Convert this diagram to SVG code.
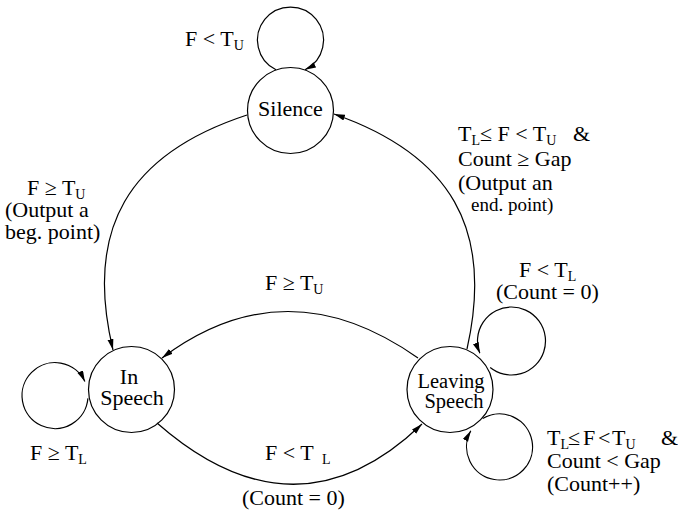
<svg xmlns="http://www.w3.org/2000/svg" width="678" height="510" viewBox="0 0 678 510">
  <style>
    .node { fill: #fff; stroke: #000; stroke-width: 1.2; }
    .edge { fill: none; stroke: #000; stroke-width: 1.2; marker-end: url(#ah); }
    text { font-family: "Liberation Serif", "Times New Roman", serif; font-size: 22px; fill: #000; }
    .sub { font-size: 14px; }
    .small { font-size: 19px; }
    .ls { font-size: 20.5px; }
  </style>
  <defs>
    <marker id="ah" markerUnits="userSpaceOnUse" markerWidth="12" markerHeight="7" viewBox="0 0 12 7" refX="11" refY="3" orient="auto">
      <path d="M0,0 L11,3 L0,6 z" fill="#000"/>
    </marker>
  </defs>

  <!-- states -->
  <g id="silence">
    <circle class="node" cx="290.5" cy="110.5" r="43"/>
    <text x="290.5" y="116" text-anchor="middle">Silence</text>
  </g>
  <g id="in-speech">
    <circle class="node" cx="131.5" cy="389.5" r="43"/>
    <text x="129" y="384" text-anchor="middle">In</text>
    <text x="132" y="405" text-anchor="middle">Speech</text>
  </g>
  <g id="leaving-speech">
    <circle class="node" cx="450" cy="389.5" r="43"/>
    <text class="ls" x="451" y="388" text-anchor="middle">Leaving</text>
    <text class="ls" x="454" y="408" text-anchor="middle">Speech</text>
  </g>

  <!-- transitions -->
  <g id="connectors">
    <!-- Silence self-loop -->
    <path class="edge" d="M276 69.7 A33 33 0 1 1 305 69.7"/>
    <!-- Silence -> In Speech -->
    <path class="edge" d="M247 115 C128 154 84 229 113 350"/>
    <!-- Leaving Speech -> Silence -->
    <path class="edge" d="M467 349 C494 229 451 155 334 114"/>
    <!-- Leaving Speech -> In Speech -->
    <path class="edge" d="M418 358 Q286 265 162 358"/>
    <!-- In Speech -> Leaving Speech -->
    <path class="edge" d="M157 423 Q296 545 422 424"/>
    <!-- In Speech self-loop -->
    <path class="edge" d="M87.9 398.4 A33 33 0 1 1 84.9 381.6"/>
    <!-- Leaving Speech self-loops -->
    <path class="edge" d="M490.2 367.5 A34 34 0 1 0 479.8 353.3"/>
    <path class="edge" d="M482.7 418.6 A33 33 0 1 1 470.8 430.8"/>
  </g>

  <!-- transition labels -->
  <g id="labels">
    <text x="185" y="46">F &lt; T<tspan class="sub" dy="3.5">U</tspan></text>

    <text x="27" y="195">F ≥ T<tspan class="sub" dy="3.5">U</tspan></text>
    <text x="5" y="217">(Output a</text>
    <text x="5" y="239">beg. point)</text>

    <text x="458" y="141">T<tspan class="sub" dy="3.5">L</tspan><tspan dy="-3.5">≤ F &lt; T</tspan><tspan class="sub" dy="3.5">U</tspan> <tspan x="573" dy="-3.5">&amp;</tspan></text>
    <text x="458" y="166">Count ≥ Gap</text>
    <text x="458" y="190">(Output an</text>
    <text class="small" x="471" y="211">end. point)</text>

    <text x="265" y="290">F ≥ T<tspan class="sub" dy="3.5">U</tspan></text>

    <text y="460"><tspan x="265">F &lt; T</tspan> <tspan class="sub" x="322" dy="3.5">L</tspan></text>
    <text x="242" y="505">(Count = 0)</text>

    <text x="30" y="460">F ≥ T<tspan class="sub" dy="3.5">L</tspan></text>

    <text x="519" y="277">F &lt; T<tspan class="sub" dy="3.5">L</tspan></text>
    <text x="496" y="299">(Count = 0)</text>

    <text y="445"><tspan x="547">T</tspan><tspan class="sub" dy="3.5">L</tspan><tspan x="568" dy="-3.5">≤</tspan> <tspan x="583">F</tspan> <tspan x="598">&lt;</tspan> <tspan x="612">T</tspan><tspan class="sub" dy="3.5">U</tspan> <tspan x="661" dy="-3.5">&amp;</tspan></text>
    <text x="547" y="468">Count &lt; Gap</text>
    <text x="547" y="491">(Count++)</text>
  </g>
</svg>
